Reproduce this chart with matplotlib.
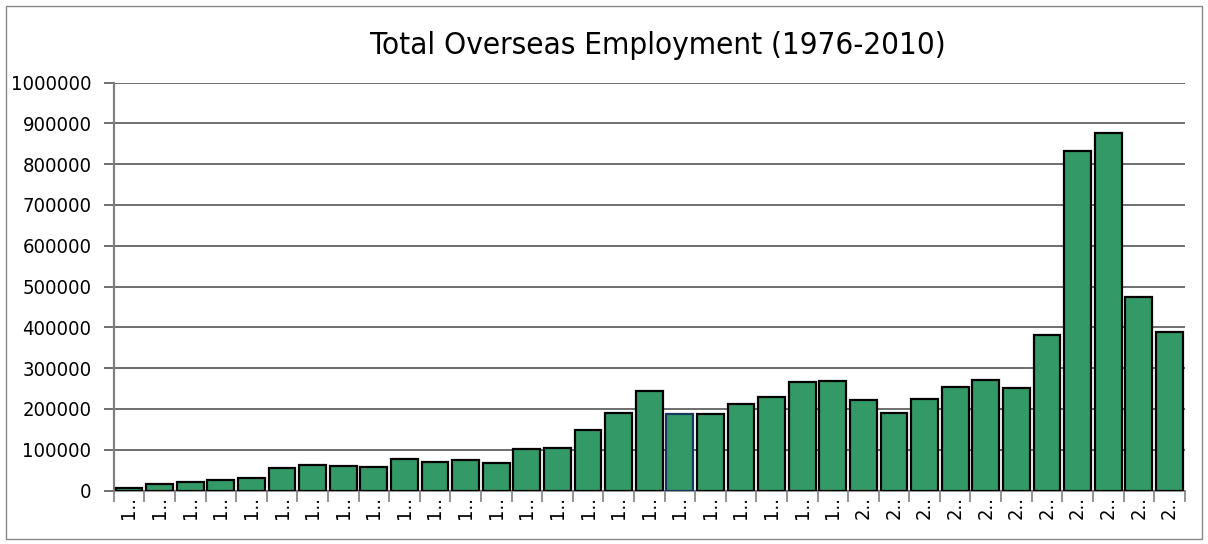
import matplotlib
matplotlib.use("Agg")
import matplotlib.pyplot as plt
from matplotlib.patches import Rectangle

# Overseas employment per year
years = list(range(1976, 2011))
employment = [5000, 16000, 22000, 25000, 30000, 56000, 63000, 60000, 57000, 78000,
              69000, 74000, 68000, 102000, 104000, 148000, 189000, 243000, 187000, 187000,
              211000, 230000, 267000, 268000, 222000, 189000, 224000, 253000, 272000, 252000,
              380000, 832000, 876000, 474000, 389000]
tick_labels = [str(y)[0] + ".." for y in years]
yticks = [0, 100000, 200000, 300000, 400000, 500000, 600000, 700000, 800000, 900000, 1000000]

plt.rcParams['font.family'] = ['DejaVu Sans']
plt.rcParams['font.stretch'] = 'condensed'

fig = plt.figure(figsize=(12.08, 5.44), dpi=100)
ax = fig.add_axes([113.7 / 1208, 1 - 490.5 / 544, (1184.7 - 113.7) / 1208, (490.5 - 82.5) / 544])

xpos = list(range(len(years)))
edges = ['black'] * len(years)
edges[years.index(1994)] = '#17375E'
ax.bar(xpos, employment, width=0.88, color='#339966', edgecolor=edges, linewidth=1.6, zorder=3)

ax.set_xlim(-0.5, len(years) - 0.5)
ax.set_ylim(0, 1000000)
ax.set_yticks(yticks)
ax.set_yticklabels([str(v) for v in yticks], fontsize=14.5)
ax.yaxis.grid(True, color='#555555', linewidth=1.2, zorder=0)

# labels at bar centers, tick marks at bar boundaries
ax.set_xticks(xpos)
ax.set_xticklabels(tick_labels, rotation=90, fontsize=14.5, va='top')
ax.set_xticks([i - 0.5 for i in range(len(years) + 1)], minor=True)
ax.tick_params(axis='x', which='major', length=0, pad=4)
ax.tick_params(axis='x', which='minor', length=8, width=1.2, color='#808080')
ax.tick_params(axis='y', length=7, width=1.2, color='#555555', pad=9)

ax.spines['top'].set_visible(False)
ax.spines['right'].set_visible(False)
ax.spines['left'].set_color('#808080')
ax.spines['left'].set_linewidth(1.6)
ax.spines['bottom'].set_color('#808080')
ax.spines['bottom'].set_linewidth(1.2)

fig.text(657.5 / 1208, 1 - 45 / 544, 'Total Overseas Employment (1976-2010)',
         ha='center', va='center', fontsize=22.5)

fig.patches.append(Rectangle((5.5 / 1208, 5.5 / 544), (1202 - 5.5) / 1208, (538.5 - 5.5) / 544,
                             transform=fig.transFigure, fill=False, edgecolor='#888888',
                             linewidth=1.0))

plt.savefig('out.png', dpi=100)
